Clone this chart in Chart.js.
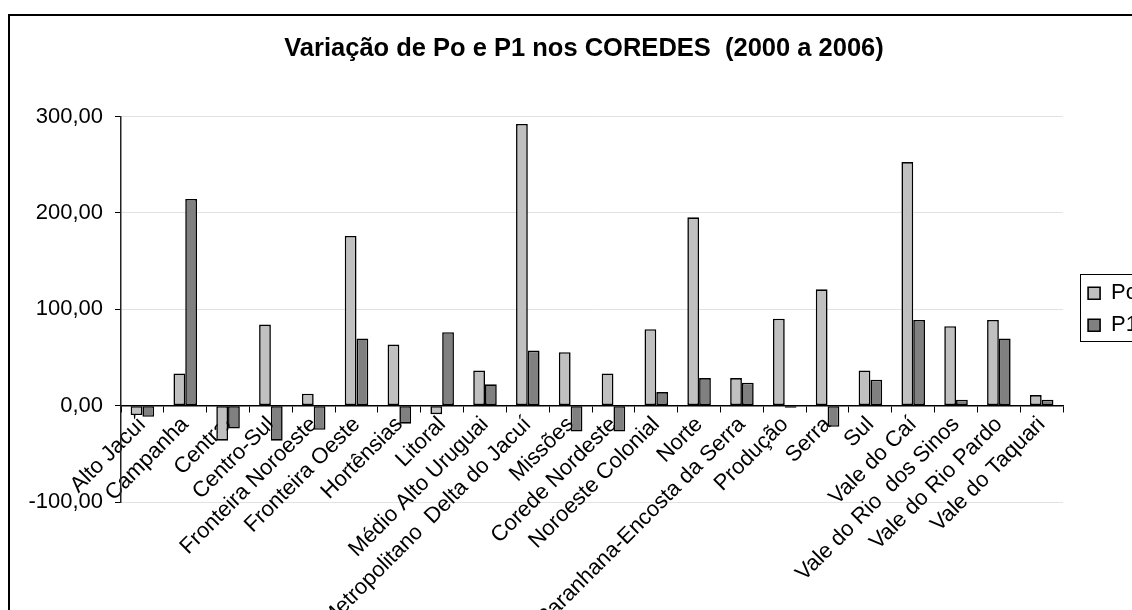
<!DOCTYPE html>
<html><head><meta charset="utf-8">
<script src="https://cdn.jsdelivr.net/npm/chart.js@4.4.1/dist/chart.umd.min.js"></script>
<style>
html,body{margin:0;padding:0;background:#fff;overflow:hidden;width:1132px;height:610px}
canvas{position:absolute;left:0;top:0}
</style></head>
<body><canvas id="c" width="1180" height="660"></canvas>
<script>
const categories = ['Alto Jacuí','Campanha','Central','Centro-Sul','Fronteira Noroeste','Fronteira Oeste','Hortênsias','Litoral','Médio Alto Uruguai','Metropolitano  Delta do Jacuí','Missões','Corede Nordeste','Noroeste Colonial','Norte','Paranhana-Encosta da Serra','Produção','Serra','Sul','Vale do Caí','Vale do Rio  dos Sinos','Vale do Rio Pardo','Vale do Taquari'];
const seriesNames = ['Po','P1'];
const poValues = [-9.7, 33.4, -36.4, 84.1, 12.4, 176.2, 63.4, -8.8, 36.6, 292.4, 55.5, 33.4, 79.3, 195.5, 28.6, 90.3, 120.7, 36.6, 252.8, 82.4, 89.0, 11.0];
const p1Values = [-11.6, 214.5, -23.7, -36.4, -25.1, 69.7, -18.7, 76.2, 22.1, 57.2, -26.9, -26.9, 14.1, 28.6, 23.8, -2.3, -21.9, 26.9, 89.0, 6.2, 69.7, 6.2];
const yTicks = [-100, 0, 100, 200, 300];
const yTickLabels = ['-100,00', '0,00', '100,00', '200,00', '300,00'];
const titleText = 'Variação de Po e P1 nos COREDES  (2000 a 2006)';

const FONT = 'Liberation Sans, Arial, sans-serif';

const framePlugin = {
  id: 'frame',
  afterDraw(chart) {
    const ctx = chart.ctx;
    ctx.save();
    ctx.strokeStyle = '#000';
    ctx.lineWidth = 2;
    ctx.strokeRect(9, 15, 1400, 1000);
    const lg = chart.legend;
    if (lg && lg.legendHitBoxes && lg.legendHitBoxes.length > 1) {
      const h0 = lg.legendHitBoxes[0], h1 = lg.legendHitBoxes[1];
      const top = Math.round(h0.top - 8) + 0.5;
      const bottom = Math.round(h1.top + h1.height + 5) + 0.5;
      const left = Math.round(h0.left - 8) + 0.5;
      ctx.lineWidth = 1;
      ctx.strokeRect(left, top, 120, bottom - top);
    }
    ctx.restore();
  }
};

new Chart(document.getElementById('c'), {
  type: 'bar',
  data: {
    labels: categories,
    datasets: [
      { label: seriesNames[0], data: poValues, backgroundColor: '#C0C0C0', borderColor: '#000', borderWidth: 1.6, borderSkipped: false },
      { label: seriesNames[1], data: p1Values, backgroundColor: '#808080', borderColor: '#000', borderWidth: 1.6, borderSkipped: false }
    ]
  },
  options: {
    responsive: false,
    animation: false,
    devicePixelRatio: 1,
    layout: { padding: { left: 20, right: 32, top: 0, bottom: 158 } },
    datasets: { bar: { categoryPercentage: 0.55, barPercentage: 1.0 } },
    plugins: {
      title: {
        display: true, text: titleText, color: '#000',
        font: { family: FONT, size: 25.5, weight: 'bold', lineHeight: 1.2 },
        padding: { top: 34, bottom: 52 }
      },
      legend: {
        display: true, position: 'right', fullSize: false,
        labels: { color: '#000', boxWidth: 12, boxHeight: 12, padding: 10,
          font: { family: FONT, size: 22 } }
      },
      tooltip: { enabled: false }
    },
    scales: {
      x: {
        type: 'category',
        position: { y: 0 },
        grid: { display: true, drawOnChartArea: false, tickLength: 6, tickColor: '#000', offset: true },
        border: { display: true, color: '#000', width: 1.5 },
        ticks: { color: '#000', font: { family: FONT, size: 22 }, minRotation: 45, maxRotation: 45, autoSkip: false, padding: 0 }
      },
      y: {
        type: 'linear', position: 'left', min: -100, max: 300,
        afterBuildTicks(s) { s.ticks = yTicks.map(v => ({ value: v })); },
        afterFit(s) { s.width = 101; },
        grid: {
          color: (c) => (c.tick && c.tick.value === 0) ? 'rgba(0,0,0,0)' : '#e2e2e2',
          tickColor: '#000', tickLength: 6, lineWidth: 1
        },
        border: { display: true, color: '#222', width: 1.5 },
        ticks: { color: '#000', padding: 12, font: { family: FONT, size: 22 },
          callback: (v) => yTickLabels[yTicks.indexOf(v)] }
      },
      ySpacer: {
        type: 'linear', position: 'right', display: true,
        afterFit(s) { s.width = 15; },
        grid: { display: false }, border: { display: false }, ticks: { display: false }
      }
    }
  },
  plugins: [framePlugin]
});
</script>
</body></html>
